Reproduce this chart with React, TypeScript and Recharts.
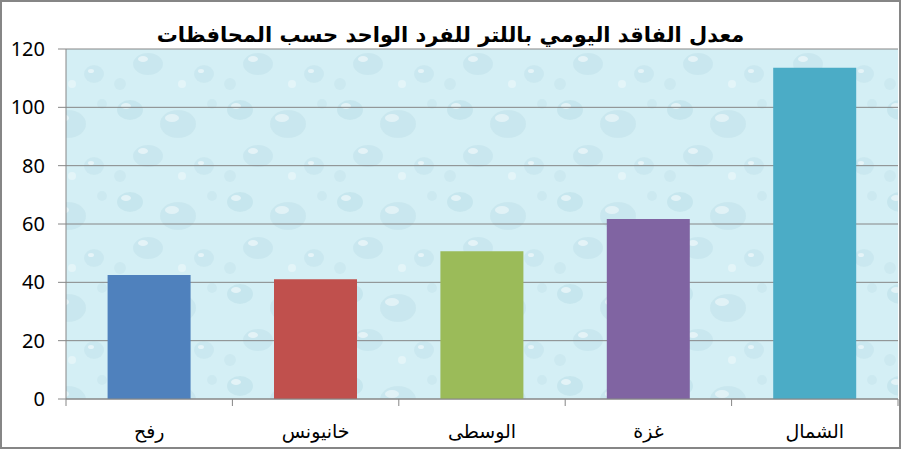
import { Bar, BarChart, CartesianGrid, Cell, XAxis, YAxis } from 'recharts'

const title = 'معدل الفاقد اليومي باللتر للفرد الواحد حسب المحافظات'
const governorates = ['رفح', 'خانيونس', 'الوسطى', 'غزة', 'الشمال']
const lossPerPerson = [42.5, 41.1, 50.7, 61.7, 113.6]
const barColors = ['#4f81bd', '#c0504d', '#9bbb59', '#8064a2', '#4bacc6']
const yTicks = [0, 20, 40, 60, 80, 100, 120]
const boundaryTicks = [0, 1, 2, 3, 4, 5]

const data = governorates.map((name, i) => ({ name, value: lossPerPerson[i], pos: i + 0.5 }))

// empty label for the boundary tick axis, only the tick marks are wanted
const NoLabel = () => <g />

export default function App() {
  return (
    <div
      style={{
        position: 'absolute',
        left: 0,
        top: 0,
        width: 901,
        height: 449,
        boxSizing: 'border-box',
        border: '2px solid #868686',
        background: '#fff',
      }}
    >
      <div
        style={{
          position: 'absolute',
          left: 0,
          top: 19,
          width: 897,
          textAlign: 'center',
          fontFamily: '"DejaVu Sans", sans-serif',
          fontWeight: 'bold',
          fontSize: 21,
          lineHeight: '28px',
          color: '#000',
        }}
        dir="rtl"
      >
        {title}
      </div>
      <BarChart
        width={897}
        height={445}
        data={data}
        margin={{ top: 47, right: 1, bottom: 0, left: 0 }}
        barCategoryGap="25%"
      >
        <defs>
          <pattern id="drops" width="110" height="92" patternUnits="userSpaceOnUse">
            <rect width="110" height="92" fill="#d4eff5" />
            <ellipse cx="18" cy="16" rx="13" ry="10" fill="#b6dbe5" opacity="0.45" />
            <ellipse cx="14" cy="12" rx="5" ry="3" fill="#ffffff" opacity="0.5" />
            <ellipse cx="66" cy="30" rx="18" ry="14" fill="#bcdfe8" opacity="0.45" />
            <ellipse cx="60" cy="24" rx="7" ry="4" fill="#ffffff" opacity="0.45" />
            <ellipse cx="36" cy="62" rx="15" ry="11" fill="#b8dce6" opacity="0.4" />
            <ellipse cx="31" cy="57" rx="5" ry="3" fill="#ffffff" opacity="0.5" />
            <ellipse cx="92" cy="72" rx="10" ry="9" fill="#bfe1ea" opacity="0.45" />
            <ellipse cx="89" cy="69" rx="3" ry="2" fill="#ffffff" opacity="0.5" />
            <circle cx="100" cy="10" r="5" fill="#c3e3eb" opacity="0.5" />
            <circle cx="8" cy="82" r="6" fill="#c3e3eb" opacity="0.5" />
            <circle cx="70" cy="82" r="4" fill="#ffffff" opacity="0.35" />
          </pattern>
        </defs>
        <CartesianGrid
          xAxisId="cat"
          vertical={false}
          stroke="#868686"
          strokeWidth={1}
          fill="url(#drops)"
          fillOpacity={1}
        />
        <XAxis
          xAxisId="b"
          type="number"
          dataKey="pos"
          domain={[0, 5]}
          ticks={boundaryTicks}
          height={1}
          axisLine={{ stroke: '#868686' }}
          tickLine={{ stroke: '#868686' }}
          tickSize={7}
          tick={NoLabel}
        />
        <XAxis
          xAxisId="cat"
          dataKey="name"
          height={47}
          axisLine={false}
          tickLine={false}
          tickMargin={19}
          tick={{ fill: '#000', fontSize: 19, fontFamily: '"Liberation Serif", "DejaVu Sans", serif' }}
        />
        <YAxis
          domain={[0, 120]}
          ticks={yTicks}
          width={64}
          axisLine={{ stroke: '#868686' }}
          tickLine={{ stroke: '#868686' }}
          tickSize={8}
          tickMargin={13}
          tick={{ fill: '#000', fontSize: 20, fontFamily: '"Noto Sans", sans-serif' }}
        />
        <Bar xAxisId="cat" dataKey="value" isAnimationActive={false}>
          {data.map((d, i) => (
            <Cell key={d.name} fill={barColors[i]} />
          ))}
        </Bar>
      </BarChart>
    </div>
  )
}
